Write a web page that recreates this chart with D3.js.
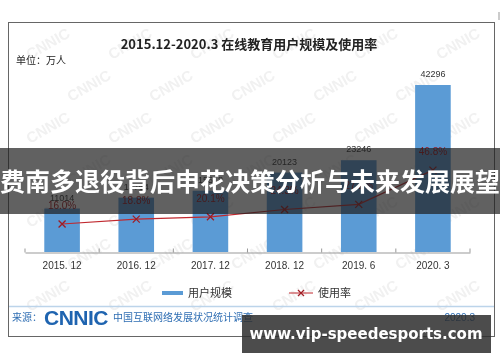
<!DOCTYPE html>
<html>
<head>
<meta charset="utf-8">
<script src="https://cdn.jsdelivr.net/npm/d3@7"></script>
<style>
  body { margin: 0; background: #fff; }
  svg { display: block; font-family: "Noto Sans CJK SC", "Noto Sans", sans-serif; }
</style>
</head>
<body>
<div id="chart"></div>
<script>
const periods = ["2015. 12", "2016. 12", "2017. 12", "2018. 12", "2019. 6", "2020. 3"];
const users = [11014, 13764, 15518, 20123, 23246, 42296];
const rates = [16.0, 18.8, 20.1, 24.3, 27.2, 46.8];

const width = 500, height = 362;
const svg = d3.select("#chart").append("svg").attr("width", width).attr("height", height);

// faint CNNIC watermark
const wm = svg.append("g").attr("fill", "#888").attr("opacity", 0.12)
  .attr("font-size", 15).attr("font-weight", "bold").attr("font-family", "Liberation Sans, sans-serif");
for (let r = 0; r < 7; r++) {
  for (let c = 0; c < 6; c++) {
    const wx = 30 + c * 82 + (r % 2) * 41, wy = 60 + r * 42;
    if (wx > 460) continue;
    wm.append("text").attr("transform", `translate(${wx},${wy}) rotate(-30)`).text("CNNIC");
  }
}

// frame
svg.append("rect").attr("x", 8.5).attr("y", 22.5).attr("width", 486).attr("height", 314)
  .attr("fill", "none").attr("stroke", "#666").attr("stroke-width", 1);
svg.append("line").attr("x1", 499).attr("x2", 499).attr("y1", 12).attr("y2", 20).attr("stroke", "#999");

svg.append("text").attr("x", 249).attr("y", 49).attr("text-anchor", "middle")
  .attr("font-size", 13).attr("font-weight", "bold").attr("fill", "#222")
  .text("2015.12-2020.3 在线教育用户规模及使用率");
svg.append("text").attr("x", 16).attr("y", 64).attr("font-size", 10).attr("fill", "#222").text("单位：万人");

const x = d3.scaleBand().domain(periods).range([25, 470]).paddingInner(0.52).paddingOuter(0.26);
const y = d3.scaleLinear().domain([0, 42296]).range([252, 85]);
const y2 = d3.scaleLinear().domain([0, 100]).range([252, 77]);

svg.selectAll(".bar").data(users).join("rect")
  .attr("x", (d, i) => x(periods[i])).attr("width", x.bandwidth())
  .attr("y", d => y(d)).attr("height", d => y(0) - y(d))
  .attr("fill", "#5b9bd5");

svg.selectAll(".val").data(users).join("text")
  .attr("x", (d, i) => x(periods[i]) + x.bandwidth() / 2).attr("y", d => y(d) - 8)
  .attr("text-anchor", "middle").attr("font-size", 9).attr("fill", "#333")
  .attr("font-family", "Liberation Sans, sans-serif").text(d => d);

// x axis
const axis = svg.append("g").attr("transform", "translate(0,252.5)")
  .call(d3.axisBottom(x).tickSize(0).tickPadding(9));
axis.select(".domain").attr("stroke", "#999");
axis.selectAll("text").attr("font-size", 10).attr("fill", "#333").attr("font-family", "Liberation Sans, sans-serif");
d3.range(7).forEach(i => {
  const tx = 25 + i * (445 / 6);
  axis.append("line").attr("x1", tx).attr("x2", tx).attr("y1", 0).attr("y2", -4).attr("stroke", "#999");
});

// rate line
const cx = (d, i) => x(periods[i]) + x.bandwidth() / 2;
const line = d3.line().x(cx).y(d => y2(d));
svg.append("path").datum(rates).attr("fill", "none").attr("stroke", "#c0282e").attr("stroke-width", 1.2).attr("d", line);
svg.selectAll(".mk").data(rates).join("path")
  .attr("transform", (d, i) => `translate(${cx(d, i)},${y2(d)})`)
  .attr("d", "M-3.5,-3.5L3.5,3.5M-3.5,3.5L3.5,-3.5").attr("stroke", "#a01c24").attr("stroke-width", 1.3);
svg.selectAll(".rl").data(rates).join("text")
  .attr("x", cx).attr("y", d => y2(d) - 15).attr("text-anchor", "middle")
  .attr("font-size", 10).attr("fill", "#a0141c").attr("font-family", "Liberation Sans, sans-serif")
  .text(d => d.toFixed(1) + "%");

// legend
svg.append("rect").attr("x", 162).attr("y", 291).attr("width", 21).attr("height", 4).attr("fill", "#5b9bd5");
svg.append("text").attr("x", 188).attr("y", 297).attr("font-size", 11).attr("fill", "#333").text("用户规模");
svg.append("line").attr("x1", 289).attr("x2", 313).attr("y1", 293).attr("y2", 293).attr("stroke", "#c0282e");
svg.append("path").attr("transform", "translate(301,293)").attr("d", "M-3,-3L3,3M-3,3L3,-3").attr("stroke", "#a01c24").attr("stroke-width", 1.2);
svg.append("text").attr("x", 318).attr("y", 297).attr("font-size", 11).attr("fill", "#333").text("使用率");

// footer
svg.append("line").attr("x1", 9).attr("x2", 494).attr("y1", 306.5).attr("y2", 306.5).attr("stroke", "#bcd4ea").attr("stroke-width", 1.5);
svg.append("text").attr("x", 12).attr("y", 321).attr("font-size", 10).attr("fill", "#2f6eb3").text("来源：");
svg.append("text").attr("x", 44).attr("y", 325).attr("font-size", 21).attr("font-weight", "bold")
  .attr("fill", "#1f64b0").attr("font-family", "Liberation Sans, sans-serif").attr("letter-spacing", -0.5).text("CNNIC");
svg.append("text").attr("x", 113).attr("y", 321).attr("font-size", 10).attr("fill", "#2f6eb3").text("中国互联网络发展状况统计调查");
svg.append("text").attr("x", 475).attr("y", 321).attr("text-anchor", "end").attr("font-size", 10)
  .attr("fill", "#2f6eb3").attr("font-family", "Liberation Sans, sans-serif").text("2020.3");

// overlay banner
svg.append("rect").attr("x", 0).attr("y", 148).attr("width", width).attr("height", 66).attr("fill", "rgba(30,30,30,0.7)");
svg.append("text").attr("x", 250).attr("y", 191).attr("text-anchor", "middle").attr("font-size", 25)
  .attr("font-weight", "bold").attr("fill", "#fff").text("费南多退役背后申花决策分析与未来发展展望");

// site watermark
svg.append("rect").attr("x", 242).attr("y", 315).attr("width", 249).attr("height", 38).attr("fill", "rgba(45,45,45,0.85)");
svg.append("text").attr("x", 366).attr("y", 339).attr("text-anchor", "middle").attr("font-size", 15)
  .attr("font-weight", "bold").attr("fill", "#fff").attr("font-family", "DejaVu Sans, sans-serif")
  .text("www.vip-speedesports.com");
</script>
</body>
</html>
